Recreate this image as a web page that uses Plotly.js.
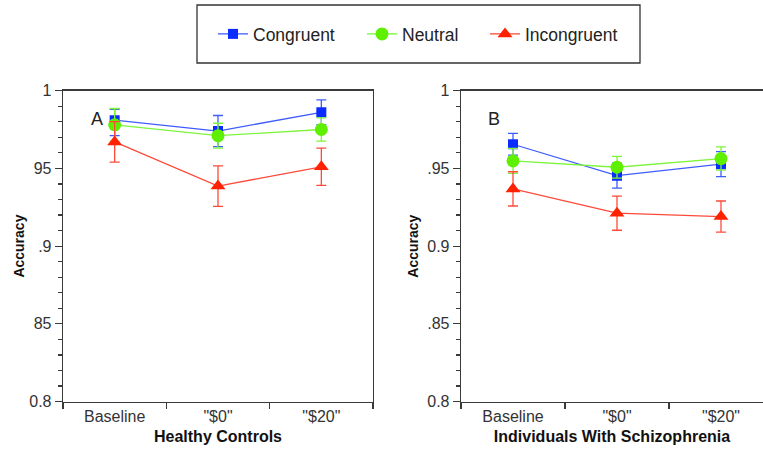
<!DOCTYPE html>
<html><head><meta charset="utf-8">
<script src="https://cdn.plot.ly/plotly-3.0.1.min.js"></script>
<style>html,body{margin:0;padding:0;background:#fff;overflow:hidden}</style>
</head><body><div id="chart" style="width:763px;height:454px"></div>
<script>
// ---- data ----
const categories = ['Baseline', '"$0"', '"$20"'];
const seriesNames = ['Congruent', 'Neutral', 'Incongruent'];
const hcCongruent = [0.981, 0.974, 0.986];
const hcCongruentErrPlus = [0.007, 0.010, 0.008];
const hcCongruentErrMinus = [0.010, 0.010, 0.008];
const hcNeutral = [0.978, 0.971, 0.975];
const hcNeutralErr = [0.0105, 0.008, 0.0075];
const hcIncongruent = [0.967, 0.9386, 0.951];
const hcIncongruentErr = [0.013, 0.013, 0.012];
const szCongruent = [0.9655, 0.9453, 0.9527];
const szCongruentErr = [0.007, 0.008, 0.008];
const szNeutral = [0.9548, 0.9507, 0.9563];
const szNeutralErr = [0.008, 0.007, 0.0075];
const szIncongruent = [0.9368, 0.9212, 0.919];
const szIncongruentErr = [0.011, 0.011, 0.010];
const yTickVals = [0.8, 0.85, 0.9, 0.95, 1];
const hcYTickText = ['0.8', '85', '.9', '95', '1'];
const szYTickText = ['0.8', '.85', '0.9', '.95', '1'];
const panelLabels = ['A', 'B'];
const groupTitles = ['Healthy Controls', 'Individuals With Schizophrenia'];

// ---- styles ----
const styles = [
  {color: '#0a2cff', line: '#3f5cff', symbol: 'square', size: 10},
  {color: '#5ef000', line: '#7cf53a', symbol: 'circle', size: 13},
  {color: '#ff2200', line: '#ff4a3a', symbol: 'triangle-up', size: 13}
];
const legendIds = ['legend', 'legend2', 'legend3'];

function mk(name, y, errPlus, errMinus, i, xa, ya, showLegend) {
  const s = styles[i];
  return {
    type: 'scatter', mode: 'lines+markers', name: name,
    x: categories, y: y, xaxis: xa, yaxis: ya, showlegend: showLegend,
    legend: legendIds[i],
    line: {color: s.line, width: 1.3},
    marker: {color: s.color, symbol: s.symbol, size: s.size, line: {width: 0}},
    error_y: {type: 'data', symmetric: false, array: errPlus, arrayminus: errMinus, visible: true,
              color: s.line, thickness: 1.3, width: 5}
  };
}

const data = [
  mk(seriesNames[0], hcCongruent, hcCongruentErrPlus, hcCongruentErrMinus, 0, 'x', 'y', true),
  mk(seriesNames[1], hcNeutral, hcNeutralErr, hcNeutralErr, 1, 'x', 'y', true),
  mk(seriesNames[2], hcIncongruent, hcIncongruentErr, hcIncongruentErr, 2, 'x', 'y', true),
  mk(seriesNames[0], szCongruent, szCongruentErr, szCongruentErr, 0, 'x2', 'y2', false),
  mk(seriesNames[1], szNeutral, szNeutralErr, szNeutralErr, 1, 'x2', 'y2', false),
  mk(seriesNames[2], szIncongruent, szIncongruentErr, szIncongruentErr, 2, 'x2', 'y2', false)
];

const FONT = 'Liberation Sans, Arial, sans-serif';
const axisLine = '#3a3a3a';

function xAxis(domain, range, title, anchor, mirror) {
  return {
    domain: domain, range: range, type: 'category', anchor: anchor,
    showline: true, linecolor: axisLine, linewidth: 1.3, mirror: mirror,
    ticks: 'outside', tickson: 'boundaries', ticklen: 6, tickcolor: axisLine, tickwidth: 1.2,
    showgrid: false, zeroline: false, automargin: false,
    tickfont: {family: FONT, size: 16, color: '#333'},
    title: {text: '<b>' + title + '</b>', font: {family: FONT, size: 16, color: '#111'}, standoff: 6}
  };
}
function yAxis(domain, tickText, anchor, mirror, standoff) {
  return {
    domain: domain, range: [0.8, 1.0], anchor: anchor,
    showline: true, linecolor: axisLine, linewidth: 1.3, mirror: mirror,
    tickmode: 'array', tickvals: yTickVals, ticktext: tickText,
    ticks: 'outside', ticklen: 7, tickcolor: axisLine, tickwidth: 1.2,
    minor: {ticks: 'outside', dtick: 0.01, ticklen: 4, tickcolor: axisLine, tickwidth: 1.2, showgrid: false},
    showgrid: false, zeroline: false, automargin: false,
    tickfont: {family: FONT, size: 16, color: '#333'},
    title: {text: '<b>Accuracy</b>', font: {family: FONT, size: 14, color: '#111'}, standoff: standoff}
  };
}

const W = 763, H = 454;
const yDom = [1 - 401.6 / H, 1 - 90.6 / H];
const legendFont = {family: FONT, size: 17.5, color: '#222'};
function legendAt(px) {
  return {orientation: 'h', x: px / W, xanchor: 'left', y: 1 - 34 / H, yanchor: 'middle',
          font: legendFont, bgcolor: 'rgba(0,0,0,0)', borderwidth: 0};
}
const layout = {
  width: W, height: H,
  margin: {l: 0, r: 0, t: 0, b: 0},
  paper_bgcolor: '#fff', plot_bgcolor: '#fff',
  font: {family: FONT, color: '#222'},
  xaxis: xAxis([63 / W, 373 / W], [-0.5, 2.5], groupTitles[0], 'y', true),
  yaxis: yAxis(yDom, hcYTickText, 'x', true, 1),
  xaxis2: xAxis([461 / W, 1], [-0.5, 2.404], groupTitles[1], 'y2', true),
  yaxis2: yAxis(yDom, szYTickText, 'x2', false, 5),
  showlegend: true,
  legend: legendAt(213),
  legend2: legendAt(362),
  legend3: legendAt(485),
  shapes: [{
    type: 'rect', xref: 'paper', yref: 'paper',
    x0: 197 / W, x1: 640 / W, y0: 1 - 63 / H, y1: 1 - 5 / H,
    line: {color: '#333', width: 1.3}, fillcolor: 'rgba(0,0,0,0)'
  }],
  annotations: [
    {text: panelLabels[0], xref: 'paper', yref: 'paper', x: 97 / W, y: 1 - 119 / H, showarrow: false,
     font: {family: FONT, size: 18, color: '#222'}, xanchor: 'center', yanchor: 'middle'},
    {text: panelLabels[1], xref: 'paper', yref: 'paper', x: 494 / W, y: 1 - 119 / H, showarrow: false,
     font: {family: FONT, size: 18, color: '#222'}, xanchor: 'center', yanchor: 'middle'}
  ]
};

Plotly.newPlot('chart', data, layout, {staticPlot: true, displayModeBar: false});
</script>
</body></html>
